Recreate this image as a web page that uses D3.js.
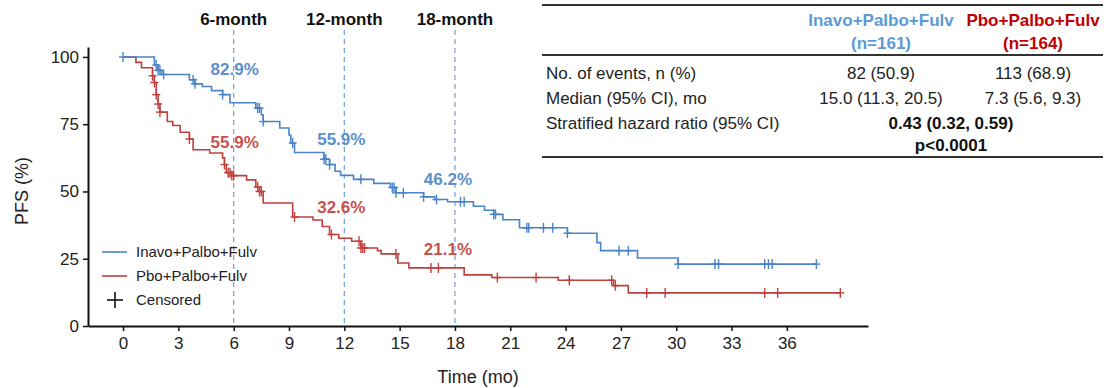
<!DOCTYPE html>
<html><head><meta charset="utf-8">
<script src="https://cdn.jsdelivr.net/npm/d3@7"></script>
<style>
body{margin:0;background:#fff;}
svg{font-family:"Liberation Sans",Arial,sans-serif;}
</style></head>
<body><svg id="c" width="1107" height="388"></svg>
<script>
// ---- data ----
const xTicks = [0,3,6,9,12,15,18,21,24,27,30,33,36];
const yTicks = [0,25,50,75,100];
const landmarks = [6,12,18];
const landmarkLabels = ["6-month","12-month","18-month"];
// Inavo+Palbo+Fulv: event times and survival after each step
const blueTimes = [0,1.7,1.9,2.1,3.6,3.9,4.3,4.8,5.4,5.8,7.2,7.5,7.6,8.5,9.0,9.1,9.3,10.9,11.2,11.5,11.8,12.5,13.6,14.5,14.8,16.3,16.9,17.6,19.0,19.6,20.1,20.6,21.5,24.1,25.7,25.9,27.9,30.1,37.6];
const blueSurv  = [100,97,95,93.5,91.5,90,89,87.5,86,83,81,78.5,76,73.6,71,68,64.5,62,60,57.5,56,54.5,53,51.5,49.5,48,47,46.2,44.5,43,41.5,39.5,36.5,34.5,31,28,25.3,23,23];
const blueCens  = [0,1.8,1.9,2.0,2.2,3.8,3.9,5.4,7.3,7.4,7.6,9.2,10.9,11.0,11.2,12.9,14.6,14.7,14.8,15.2,16.3,17.0,18.3,18.5,20.1,20.2,21.9,22.0,22.8,23.3,24.1,26.9,27.4,30.1,32.1,32.3,34.8,35.0,35.2,37.6];
// Pbo+Palbo+Fulv
const redTimes = [0,0.7,1.0,1.6,1.7,1.8,1.9,2.0,2.4,2.7,3.1,3.6,3.8,4.7,5.4,5.5,5.6,5.9,6.7,7.2,7.4,7.6,9.2,10.3,10.8,11.2,11.7,12.4,12.9,13.8,14.0,14.9,15.5,18.5,20.0,23.6,26.6,27.4,38.9];
const redSurv  = [100,98,96,93,90.5,86,82.5,79.5,76,74.5,72,69.5,65.5,64.3,62.5,60,57,55.9,54.3,51.7,50,45.7,40.5,39.4,37,34,32.6,31.5,29,28,26.8,23.4,21.6,19,18,17,15,12.3,12.3];
const redCens  = [1.6,1.7,1.8,1.9,2.0,3.6,5.5,5.7,5.8,5.9,6.0,7.3,7.4,7.5,9.3,11.3,12.8,12.9,13.0,13.1,14.8,16.7,17.1,20.3,22.4,24.2,26.5,26.7,28.4,29.4,34.8,35.5,38.9];
const blueLabels = ["82.9%","55.9%","46.2%"];
const blueLabelVals = [82.9,55.9,46.2];
const redLabels = ["55.9%","32.6%","21.1%"];
const redLabelVals = [55.9,32.6,21.1];
const seriesNames = ["Inavo+Palbo+Fulv","Pbo+Palbo+Fulv"];
const seriesN = ["(n=161)","(n=164)"];
const rowLabels = ["No. of events, n (%)","Median (95% CI), mo","Stratified hazard ratio (95% CI)"];
const col1 = ["82 (50.9)","15.0 (11.3, 20.5)"];
const col2 = ["113 (68.9)","7.3 (5.6, 9.3)"];
const hrText = ["0.43 (0.32, 0.59)","p<0.0001"];

const BLUE = "#4a84c6", RED = "#c0403c";
const svg = d3.select("#c");
const x = d3.scaleLinear().domain([-1.9,40.4]).range([88,868]);
const y = d3.scaleLinear().domain([0,103.7]).range([326,47]);

// axes
const xa = svg.append("g").attr("transform","translate(0,326)")
  .call(d3.axisBottom(x).tickValues(xTicks).tickSize(5).tickPadding(6).tickSizeOuter(0));
const ya = svg.append("g").attr("transform","translate(88,0)")
  .call(d3.axisLeft(y).tickValues(yTicks).tickSize(5).tickPadding(4).tickSizeOuter(0));
[xa,ya].forEach(a=>{
  a.select(".domain").attr("stroke","#111").attr("stroke-width",2);
  a.selectAll(".tick line").attr("stroke","#111").attr("stroke-width",1.5);
  a.selectAll("text").attr("font-size",17).attr("fill","#222").attr("font-family","'Liberation Sans',Arial,sans-serif");
});
svg.append("text").attr("x",478).attr("y",383).attr("text-anchor","middle").attr("font-size",18).attr("fill","#222").text("Time (mo)");
svg.append("text").attr("transform","translate(28,191) rotate(-90)").attr("text-anchor","middle").attr("font-size",18).attr("fill","#222").text("PFS (%)");

// landmark lines
landmarks.forEach((m,i)=>{
  svg.append("line").attr("x1",x(m)).attr("x2",x(m)).attr("y1",30).attr("y2",326)
    .attr("stroke","#6e9fd6").attr("stroke-width",1.2).attr("stroke-dasharray","5,4");
  svg.append("text").attr("x",x(m)).attr("y",25).attr("text-anchor","middle")
    .attr("font-size",17).attr("font-weight","bold").attr("fill","#111").text(landmarkLabels[i]);
});

// curves
const line = d3.line().x(d=>x(d[0])).y(d=>y(d[1])).curve(d3.curveStepAfter);
function survAt(times,surv,t){let s=surv[0];for(let i=0;i<times.length;i++){if(times[i]<=t)s=surv[i];}return s;}
function drawSeries(times,surv,cens,col){
  svg.append("path").datum(times.map((t,i)=>[t,surv[i]])).attr("d",line)
    .attr("fill","none").attr("stroke",col).attr("stroke-width",1.6);
  const g = svg.append("g").attr("stroke",col).attr("stroke-width",1.4);
  cens.forEach(t=>{
    const cx=x(t), cy=y(survAt(times,surv,t));
    g.append("line").attr("x1",cx).attr("x2",cx).attr("y1",cy-5).attr("y2",cy+5);
    g.append("line").attr("x1",cx-4).attr("x2",cx+4).attr("y1",cy).attr("y2",cy);
  });
}
drawSeries(redTimes,redSurv,redCens,RED);
drawSeries(blueTimes,blueSurv,blueCens,BLUE);

// landmark percentages
const blueOff=[-28,-31,-17], redOff=[-28,-25,-14], labDx=[1,-3,-7];
landmarks.forEach((m,i)=>{
  svg.append("text").attr("x",x(m)+labDx[i]).attr("y",y(blueLabelVals[i])+blueOff[i]).attr("text-anchor","middle")
    .attr("font-size",17).attr("font-weight","bold").attr("fill","#5b8fd0").text(blueLabels[i]);
  svg.append("text").attr("x",x(m)+labDx[i]).attr("y",y(redLabelVals[i])+redOff[i]).attr("text-anchor","middle")
    .attr("font-size",17).attr("font-weight","bold").attr("fill","#c9504c").text(redLabels[i]);
});

// legend
const lg = svg.append("g");
[BLUE,RED].forEach((c,i)=>{
  lg.append("line").attr("x1",102).attr("x2",127).attr("y1",252+i*24).attr("y2",252+i*24).attr("stroke",c).attr("stroke-width",1.6);
  lg.append("text").attr("x",136).attr("y",257+i*24).attr("font-size",15).attr("fill","#222").text(seriesNames[i]);
});
lg.append("line").attr("x1",115).attr("x2",115).attr("y1",292).attr("y2",308).attr("stroke","#111").attr("stroke-width",1.6);
lg.append("line").attr("x1",107).attr("x2",123).attr("y1",300).attr("y2",300).attr("stroke","#111").attr("stroke-width",1.6);
lg.append("text").attr("x",136).attr("y",305).attr("font-size",15).attr("fill","#222").text("Censored");

// table
const T = svg.append("g");
[5,55,157].forEach(yy=>T.append("line").attr("x1",542).attr("x2",1103).attr("y1",yy).attr("y2",yy).attr("stroke","#333").attr("stroke-width",2));
const c1=881,c2=1033,cm=951, fs=17;
T.append("text").attr("x",c1).attr("y",26).attr("text-anchor","middle").attr("font-size",fs).attr("font-weight","bold").attr("fill","#5b9bd5").text(seriesNames[0]);
T.append("text").attr("x",c1).attr("y",49).attr("text-anchor","middle").attr("font-size",fs).attr("font-weight","bold").attr("fill","#5b9bd5").text(seriesN[0]);
T.append("text").attr("x",c2).attr("y",26).attr("text-anchor","middle").attr("font-size",fs).attr("font-weight","bold").attr("fill","#c00000").text(seriesNames[1]);
T.append("text").attr("x",c2).attr("y",49).attr("text-anchor","middle").attr("font-size",fs).attr("font-weight","bold").attr("fill","#c00000").text(seriesN[1]);
const rowY=[79,104,129];
rowLabels.forEach((r,i)=>T.append("text").attr("x",546).attr("y",rowY[i]).attr("font-size",fs).attr("fill","#222").text(r));
col1.forEach((v,i)=>T.append("text").attr("x",c1).attr("y",rowY[i]).attr("text-anchor","middle").attr("font-size",fs).attr("fill","#222").text(v));
col2.forEach((v,i)=>T.append("text").attr("x",c2).attr("y",rowY[i]).attr("text-anchor","middle").attr("font-size",fs).attr("fill","#222").text(v));
T.append("text").attr("x",cm).attr("y",129).attr("text-anchor","middle").attr("font-size",fs).attr("font-weight","bold").attr("fill","#111").text(hrText[0]);
T.append("text").attr("x",cm).attr("y",151).attr("text-anchor","middle").attr("font-size",fs).attr("font-weight","bold").attr("fill","#111").text(hrText[1]);
</script></body></html>
